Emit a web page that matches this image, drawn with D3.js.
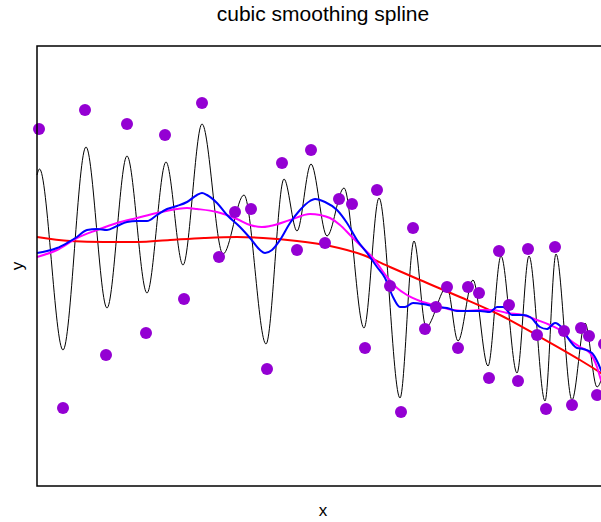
<!DOCTYPE html>
<html>
<head>
<meta charset="utf-8">
<script src="https://cdn.jsdelivr.net/npm/d3@7"></script>
<style>
  html, body { margin: 0; padding: 0; background: #fff; }
  svg { display: block; font-family: "Liberation Sans", Arial, Helvetica, sans-serif; }
</style>
</head>
<body>
<svg id="chart" width="601" height="522"></svg>
<script>
// Observed data
const xs = [0.02, 0.26, 0.48, 0.69, 0.90, 1.09, 1.28, 1.47, 1.65, 1.82,
            1.98, 2.14, 2.30, 2.45, 2.60, 2.74, 2.88, 3.02, 3.15, 3.28,
            3.40, 3.53, 3.64, 3.76, 3.88, 3.99, 4.10, 4.21, 4.31, 4.42,
            4.52, 4.62, 4.72, 4.81, 4.91, 5.00, 5.09, 5.18, 5.27, 5.35,
            5.44, 5.52, 5.60, 5.67];
const ys = [1.37, -1.42, 1.56, -0.89, 1.42, -0.67, 1.31, -0.33, 1.63, 0.09,
            0.54, 0.57, -1.03, 1.03, 0.16, 1.16, 0.23, 0.67, 0.62, -0.82,
            0.76, -0.20, -1.46, 0.38, -0.63, -0.41, -0.21, -0.82, -0.21, -0.27,
            -1.12, 0.15, -0.39, -1.15, 0.17, -0.69, -1.43, 0.19, -0.65, -1.39,
            -0.62, -0.70, -1.29, -0.78];

// Fitted curves (x, y) for four smoothing levels
const fitRoughX = [0.00, 0.025, 0.26, 0.49, 0.70, 0.90, 1.10, 1.29, 1.46, 1.65,
                   1.86, 2.07, 2.29, 2.47, 2.60, 2.74, 2.90, 3.07, 3.27, 3.42,
                   3.63, 3.77, 3.89, 4.10, 4.21, 4.36, 4.51, 4.64, 4.80, 4.92,
                   5.08, 5.19, 5.35, 5.48, 5.60, 5.72];
const fitRoughY = [0.91, 0.97, -0.84, 1.19, -0.42, 1.10, -0.27, 1.04, 0.01, 1.42,
                   0.12, 0.71, -0.78, 0.87, 0.35, 1.02, 0.30, 0.78, -0.62, 0.68,
                   -1.32, 0.25, -0.61, -0.21, -0.75, -0.14, -1.00, 0.10, -1.07, 0.10,
                   -1.35, 0.12, -1.34, -0.57, -1.21, -0.75];

const fitBlueX = [0.00, 0.10, 0.20, 0.30, 0.40, 0.50, 0.60, 0.70, 0.80, 0.90,
                  1.00, 1.10, 1.20, 1.30, 1.40, 1.50, 1.60, 1.65, 1.70, 1.80,
                  1.90, 2.03, 2.13, 2.23, 2.28, 2.35, 2.43, 2.53, 2.63, 2.73,
                  2.78, 2.88, 3.00, 3.10, 3.20, 3.30, 3.40, 3.48, 3.56, 3.63,
                  3.68, 3.76, 3.86, 4.00, 4.10, 4.20, 4.30, 4.43, 4.53, 4.60,
                  4.66, 4.75, 4.86, 4.93, 5.03, 5.10, 5.18, 5.25, 5.31, 5.40,
                  5.46, 5.55, 5.61, 5.64, 5.72];
const fitBlueY = [0.13, 0.15, 0.18, 0.23, 0.29, 0.36, 0.37, 0.36, 0.40, 0.44,
                  0.45, 0.45, 0.51, 0.57, 0.60, 0.64, 0.71, 0.73, 0.71, 0.63,
                  0.51, 0.39, 0.28, 0.16, 0.13, 0.16, 0.26, 0.43, 0.56, 0.65,
                  0.67, 0.64, 0.56, 0.43, 0.26, 0.13, -0.01, -0.12, -0.31, -0.41,
                  -0.41, -0.37, -0.38, -0.41, -0.42, -0.45, -0.45, -0.45, -0.46, -0.41,
                  -0.41, -0.49, -0.49, -0.51, -0.61, -0.63, -0.57, -0.62, -0.72, -0.82,
                  -0.83, -0.87, -0.97, -1.04, -1.19];

const fitMagX = [0.00, 0.20, 0.40, 0.60, 0.80, 1.00, 1.20, 1.40, 1.50, 1.60,
                 1.80, 2.00, 2.13, 2.25, 2.33, 2.53, 2.73, 2.83, 2.93, 3.03,
                 3.13, 3.23, 3.36, 3.50, 3.60, 3.70, 3.83, 4.00, 4.16, 4.30,
                 4.43, 4.56, 4.70, 4.86, 5.00, 5.13, 5.23, 5.33, 5.43, 5.53,
                 5.60, 5.64, 5.72];
const fitMagY = [0.09, 0.16, 0.28, 0.36, 0.43, 0.48, 0.53, 0.57, 0.58, 0.57,
                 0.54, 0.47, 0.41, 0.39, 0.40, 0.46, 0.52, 0.51, 0.48, 0.41,
                 0.31, 0.21, 0.08, -0.11, -0.22, -0.29, -0.35, -0.40, -0.44, -0.45,
                 -0.44, -0.44, -0.47, -0.49, -0.54, -0.59, -0.64, -0.74, -0.81, -0.87,
                 -1.01, -1.14, -1.29];

const fitRedX = [0.00, 0.33, 0.67, 1.00, 1.33, 1.67, 2.00, 2.26, 2.60, 2.93,
                 3.26, 3.53, 3.83, 4.23, 4.63, 5.03, 5.43, 5.72];
const fitRedY = [0.29, 0.25, 0.24, 0.24, 0.26, 0.28, 0.29, 0.28, 0.25, 0.20,
                 0.11, -0.01, -0.14, -0.31, -0.49, -0.71, -0.94, -1.12];

const titleText = "cubic smoothing spline";
const xLabel = "x";
const yLabel = "y";

const svg = d3.select("#chart");
const plotL = 37, plotR = 609, plotT = 46, plotB = 486;

const x = d3.scaleLinear().domain([0, 5.72]).range([plotL, plotR]);
const y = d3.scaleLinear().domain([-2.2, 2.2]).range([plotB, plotT]);

const line = d3.line()
  .x(d => x(d[0]))
  .y(d => y(d[1]))
  .curve(d3.curveMonotoneX);

const zipXY = (a, b) => a.map((v, i) => [v, b[i]]);

// curves
const curves = [
  { px: fitRoughX, py: fitRoughY, color: "#000000", w: 1 },
  { px: fitRedX,   py: fitRedY,   color: "#ff0000", w: 2 },
  { px: fitMagX,   py: fitMagY,   color: "#ff00ff", w: 2 },
  { px: fitBlueX,  py: fitBlueY,  color: "#0000ff", w: 2 }
];
svg.append("g").selectAll("path")
  .data(curves)
  .join("path")
  .attr("d", c => line(zipXY(c.px, c.py)))
  .attr("fill", "none")
  .attr("stroke", c => c.color)
  .attr("stroke-width", c => c.w)
  .attr("stroke-linejoin", "round");

// observations
svg.append("g").selectAll("circle")
  .data(zipXY(xs, ys))
  .join("circle")
  .attr("cx", d => x(d[0]))
  .attr("cy", d => y(d[1]))
  .attr("r", 6)
  .attr("fill", "#9400d3");

// plot frame
svg.append("rect")
  .attr("x", plotL).attr("y", plotT)
  .attr("width", plotR - plotL).attr("height", plotB - plotT)
  .attr("fill", "none")
  .attr("stroke", "#000")
  .attr("stroke-width", 1.5);

// title and axis labels
const cx = (plotL + plotR) / 2;
svg.append("text")
  .attr("x", cx).attr("y", 21)
  .attr("text-anchor", "middle")
  .attr("font-size", 21)
  .text(titleText);

svg.append("text")
  .attr("x", cx).attr("y", 516)
  .attr("text-anchor", "middle")
  .attr("font-size", 17)
  .text(xLabel);

svg.append("text")
  .attr("transform", `translate(23, ${(plotT + plotB) / 2}) rotate(-90)`)
  .attr("text-anchor", "middle")
  .attr("font-size", 17)
  .text(yLabel);
</script>
</body>
</html>
